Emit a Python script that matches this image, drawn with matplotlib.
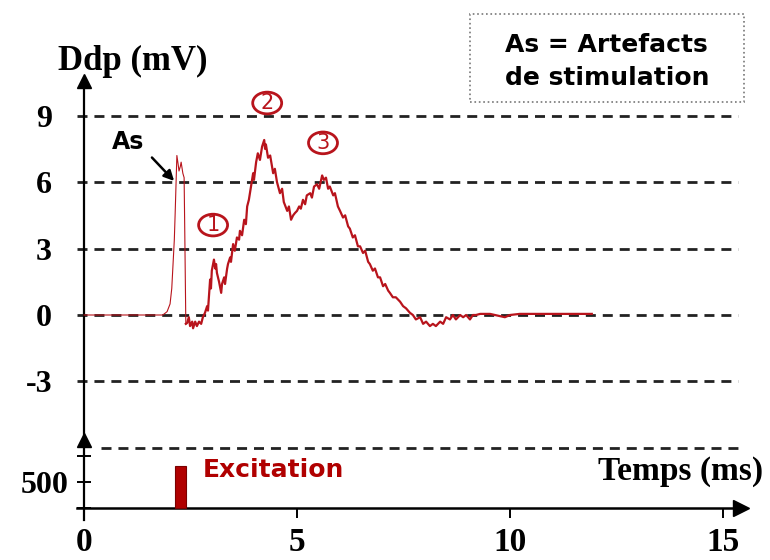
import matplotlib
matplotlib.use("Agg")
import matplotlib.pyplot as plt
from matplotlib.patches import Rectangle, Ellipse

# ---------------- data ----------------
# stimulation artefact (thin trace)
art_t = [0.0, 1.85, 1.95, 2.02, 2.06, 2.09, 2.12, 2.14, 2.16, 2.18, 2.21, 2.23, 2.26, 2.28, 2.32, 2.35, 2.37, 2.39]
art_v = [0.0, 0.0, 0.15, 0.5, 1.2, 2.3, 3.4, 4.6, 5.9, 7.2, 6.8, 6.5, 6.7, 6.9, 6.4, 6.2, 3.0, -0.4]

# evoked response (thicker trace)
sig_t = [2.39, 2.42, 2.46, 2.49, 2.54, 2.56, 2.61, 2.65, 2.70, 2.75, 2.79, 2.84, 2.89, 2.91, 2.96, 2.98,
         3.00, 3.05, 3.08, 3.10, 3.12, 3.17, 3.22, 3.24, 3.29, 3.31, 3.36, 3.38, 3.43, 3.45, 3.50, 3.54,
         3.59, 3.64, 3.66, 3.71, 3.76, 3.80, 3.83, 3.87, 3.92, 3.97, 3.99, 4.04, 4.08, 4.13, 4.18, 4.23,
         4.25, 4.27, 4.32, 4.37, 4.44, 4.48, 4.53, 4.60, 4.65, 4.69, 4.77, 4.81, 4.86, 4.91, 4.95, 5.00,
         5.05, 5.09, 5.14, 5.19, 5.23, 5.31, 5.35, 5.40, 5.47, 5.52, 5.59, 5.63, 5.68, 5.73, 5.77, 5.85,
         5.89, 5.96, 6.01, 6.08, 6.13, 6.20, 6.24, 6.31, 6.36, 6.43, 6.48, 6.55, 6.60, 6.67, 6.71, 6.78,
         6.83, 6.90, 6.95, 7.02, 7.07, 7.14, 7.18, 7.25, 7.32, 7.42, 7.49, 7.56, 7.65, 7.72, 7.79, 7.89,
         7.96, 8.03, 8.12, 8.19, 8.26, 8.36, 8.43, 8.50, 8.59, 8.66, 8.73, 8.83, 8.90, 8.97, 9.06, 9.13,
         9.20, 9.30, 9.53, 9.77, 9.88, 10.0, 10.23, 10.7, 11.17, 11.92]
sig_v = [-0.4, -0.36, -0.1, -0.5, -0.3, -0.6, -0.3, -0.5, -0.3, -0.4, -0.1, 0.1, 0.4, 0.2, 1.6, 1.2,
         2.0, 2.5, 2.1, 2.3, 1.9, 1.5, 1.0, 1.4, 1.7, 1.4, 2.1, 2.3, 2.6, 2.4, 3.2, 2.9,
         3.5, 3.4, 3.8, 3.6, 4.3, 4.1, 4.9, 5.2, 5.8, 6.4, 6.1, 6.9, 7.3, 7.0, 7.6, 7.9,
         7.5, 7.7, 7.1, 7.2, 6.4, 6.6, 6.0, 5.5, 5.7, 5.1, 4.7, 4.9, 4.3, 4.5, 4.6, 4.7,
         4.9, 4.8, 5.2, 5.0, 5.4, 5.5, 5.3, 5.8, 5.9, 5.7, 6.3, 6.1, 6.2, 5.7, 5.8, 5.4,
         5.5, 4.9, 4.7, 4.4, 4.5, 4.0, 3.9, 3.5, 3.6, 3.1, 3.1, 2.8, 2.9, 2.4, 2.3, 2.0,
         2.1, 1.7, 1.7, 1.3, 1.4, 1.1, 1.0, 0.8, 0.8, 0.6, 0.4, 0.3, 0.1, 0.0, -0.2, -0.1,
         -0.4, -0.3, -0.5, -0.4, -0.5, -0.3, -0.4, -0.1, -0.2, 0.0, -0.2, 0.0, -0.1, 0.0, -0.2, 0.0,
         0.0, 0.05, 0.05, -0.05, -0.1, 0.0, 0.05, 0.05, 0.05, 0.05]

grid_levels = [9, 6, 3, 0, -3, -6]
ddp_ticks = [9, 6, 3, 0, -3]
ddp_ticklabels = ["9", "6", "3", "0", "-3"]

time_ticks = [0, 5, 10, 15]
time_ticklabels = ["0", "5", "10", "15"]

exc_ticks = [0, 500, 1000]
exc_ticklabels = ["", "500", ""]
exc_t = [2.265]
exc_val = [800]
exc_width = 0.25

peaks = ["1", "2", "3"]
peak_t = [3.03, 4.30, 5.61]
peak_v = [4.06, 9.57, 7.77]

# ---------------- style ----------------
RED = "#b8141c"
DARKRED = "#b00000"
SERIF = "Liberation Serif"
SANS = "DejaVu Sans"

fig = plt.figure(figsize=(7.7, 5.6), dpi=100)
ax = fig.add_axes([0, 0, 1, 1])
axb = fig.add_axes([0, 0, 1, 1], sharex=ax)
axb.patch.set_visible(False)

ax.set_xlim(-1.972, 16.103)
ax.set_ylim(-11.06, 14.22)
axb.set_ylim(-1000, 9769)

for a in (ax, axb):
    for s in a.spines.values():
        s.set_visible(False)

# ---- top (Ddp) axis ----
ax.spines["left"].set_visible(True)
ax.spines["left"].set_position(("data", 0))
ax.spines["left"].set_bounds(-5.8, 10.5)
ax.spines["left"].set_linewidth(1.6)
ax.plot([0], [10.55], marker="^", color="black", markersize=10, clip_on=False)

ax.hlines(grid_levels[:-1], -0.17, 15.35, colors="#222222", linewidth=2.0,
          linestyles=(0, (3.6, 2.5)), zorder=1)
ax.hlines(grid_levels[-1:], 0.4, 15.35, colors="#222222", linewidth=2.0,
          linestyles=(0, (3.6, 2.5)), zorder=1)

ax.set_yticks(ddp_ticks)
ax.set_yticklabels(ddp_ticklabels, fontfamily=SERIF, fontweight="bold", fontsize=23)
ax.tick_params(axis="y", length=0, pad=23)
ax.tick_params(axis="x", bottom=False, labelbottom=False)

ax.text(-0.62, 11.45, "Ddp (mV)", fontfamily=SERIF, fontweight="bold", fontsize=25,
        ha="left", va="center")

ax.plot(art_t, art_v, color=RED, linewidth=0.8, zorder=3)
ax.plot(sig_t, sig_v, color=RED, linewidth=1.6, zorder=3)

ax.text(1.03, 7.81, "As", fontfamily=SANS, fontweight="bold", fontsize=17,
        ha="center", va="center")
ax.annotate("", xy=(2.16, 5.96), xytext=(1.55, 7.2),
            arrowprops=dict(arrowstyle="-|>", color="black", lw=1.8, mutation_scale=15))

for lab, t, v in zip(peaks, peak_t, peak_v):
    ax.add_patch(Ellipse((t, v), width=0.68, height=0.98, fc="white", ec=RED, lw=2.0, zorder=4))
    ax.text(t, v, lab, fontfamily=SANS, fontsize=15, color=RED, ha="center", va="center",
            zorder=5)

# legend box
ax.add_patch(Rectangle((0.6104, 0.8179), 0.3558, 0.157, transform=ax.transAxes,
                       fill=False, ec="#777777", lw=1.2, ls=":"))
ax.text(0.788, 0.9196, "As = Artefacts", transform=ax.transAxes, fontfamily=SANS,
        fontweight="bold", fontsize=18, ha="center", va="center")
ax.text(0.788, 0.861, "de stimulation", transform=ax.transAxes, fontfamily=SANS,
        fontweight="bold", fontsize=18, ha="center", va="center")

# ---- bottom (excitation) axis ----
axb.spines["left"].set_visible(True)
axb.spines["left"].set_position(("data", 0))
axb.spines["left"].set_bounds(-230, 1300)
axb.spines["left"].set_linewidth(1.6)
axb.spines["bottom"].set_visible(True)
axb.spines["bottom"].set_position(("data", 0))
axb.spines["bottom"].set_bounds(-0.17, 15.4)
axb.spines["bottom"].set_linewidth(1.8)
axb.plot([0], [1310], marker="^", color="black", markersize=10, clip_on=False)
axb.plot([15.42], [0], marker=">", color="black", markersize=12, clip_on=False)

axb.set_yticks(exc_ticks)
axb.set_yticklabels(exc_ticklabels, fontfamily=SERIF, fontweight="bold", fontsize=23)
axb.tick_params(axis="y", direction="inout", length=10, width=1.4, pad=6)

axb.set_xticks(time_ticks)
axb.set_xticklabels(time_ticklabels, fontfamily=SERIF, fontweight="bold", fontsize=24)
axb.tick_params(axis="x", direction="out", length=7, width=1.4, pad=7)

axb.bar(exc_t, exc_val, width=exc_width, color=DARKRED, edgecolor="#7a0000", linewidth=0.8, zorder=3)

axb.text(2.79, 730, "Excitation", fontfamily=SANS, fontweight="bold", fontsize=18,
         color=DARKRED, ha="left", va="center")
axb.text(15.94, 700, "Temps (ms)", fontfamily=SERIF, fontweight="bold", fontsize=24,
         ha="right", va="center")

fig.savefig("out.png", dpi=100)
